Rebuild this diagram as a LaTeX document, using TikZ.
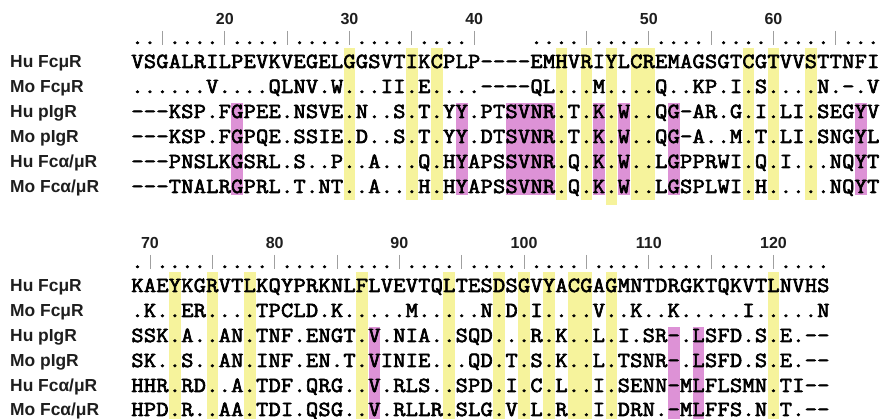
\documentclass[tikz,border=0pt]{standalone}
\usepackage{fontspec}
\setmainfont{Liberation Sans}
\newfontfamily\seqfont{Latin Modern Mono}[FakeStretch=1.1,FakeBold=3]
\definecolor{hlyellow}{RGB}{246,243,156}
\definecolor{hlmagenta}{RGB}{221,146,214}
\definecolor{labelgray}{RGB}{30,30,30}
\tikzset{
  seqchar/.style={font=\seqfont\fontsize{21.5}{21.5}\selectfont, anchor=base, inner sep=0pt},
  rowlabel/.style={font=\bfseries\fontsize{17.4}{17.4}\selectfont, text=labelgray, anchor=base west, inner sep=0pt},
  posnum/.style={font=\bfseries\fontsize{16}{16}\selectfont, text=labelgray, anchor=base, inner sep=0pt},
  tickmark/.style={draw=gray!75, line width=0.9pt},
}
% x position of alignment column #1
\newcommand\colx[1]{137.5+(#1-1)*12.47}
% shaded band over columns #2..#3 from y=#4 to y=#5
\newcommand\hlband[5]{\fill[#1] ({\colx{#2}-5.8},#4) rectangle ({\colx{#3}+5.8},#5);}
% one alignment row: node prefix, baseline y, species label, residues (one per column)
\makeatletter
\newcommand\alnrow[4]{%
  \node[rowlabel] (lab#1) at (10,#2) {#3};
  \def\aln@col{0}%
  \@tfor\aln@ch:=#4\do{%
    \pgfmathtruncatemacro\aln@col{\aln@col+1}%
    \node[seqchar] (#1c\aln@col) at ({\colx{\aln@col}},#2) {\aln@ch};}}
\makeatother
\begin{document}
\begin{tikzpicture}[x=1pt,y=-1pt]
\fill[white] (0,0) rectangle (881,419);
\useasboundingbox (0,0) rectangle (881,419);

% ---------- block 1: residues 13-68 ----------
\foreach \a/\b in {18/18,23/23,25/25,35/35,37/37,41/42,50/50,52/52,55/55}
  {\hlband{hlyellow}{\a}{\b}{48}{200}}
\hlband{hlyellow}{39}{39}{48}{205}
\foreach \a/\b in {9/9,27/27,31/34,38/38,40/40,44/44,59/59}
  {\hlband{hlmagenta}{\a}{\b}{103}{195}}

\foreach \c/\n in {8/20,18/30,28/40,42/50,52/60}
  \node[posnum] (num\n) at ({\colx{\c}},25) {\n};
\foreach \c in {3,8,13,18,23,28,37,42,47,52,57}
  \draw[tickmark] ({\colx{\c}},31) -- ({\colx{\c}},45);
\foreach \c in {1,2,4,5,6,7,9,10,11,12,14,15,16,17,19,20,21,22,24,25,26,27,
                33,34,35,36,38,39,40,41,43,44,45,46,48,49,50,51,53,54,55,56,58,59,60}
  \node[seqchar] (rdA\c) at ({\colx{\c}},44) {.};

\alnrow{A1}{68}{Hu FcμR}{VSGALRILPEVKVEGELGGSVTIKCPLP––––EMHVRIYLCREMAGSGTCGTVVSTTNFI}
\alnrow{A2}{93}{Mo FcμR}{......V....QLNV.W...II.E....––––QL...M....Q..KP.I.S....N.–.V}
\alnrow{A3}{118}{Hu pIgR}{–––KSP.FGPEE.NSVE.N..S.T.YY.PTSVNR.T.K.W..QG–AR.G.I.LI.SEGYV}
\alnrow{A4}{143}{Mo pIgR}{–––KSP.FGPQE.SSIE.D..S.T.YY.DTSVNR.T.K.W..QG–A..M.T.LI.SNGYL}
\alnrow{A5}{168}{Hu Fcα/μR}{–––PNSLKGSRL.S..P..A...Q.HYAPSSVNR.Q.K.W..LGPPRWI.Q.I...NQYT}
\alnrow{A6}{193}{Mo Fcα/μR}{–––TNALRGPRL.T.NT..A...H.HYAPSSVNR.Q.K.W..LGSPLWI.H.....NQYT}

% ---------- block 2: residues 69-124 ----------
\foreach \a/\b in {4/4,7/7,10/10,19/19,26/26,30/30,32/32,34/34,36/37,39/39,52/52}
  {\hlband{hlyellow}{\a}{\b}{272}{419}}
\foreach \a/\b in {20/20,44/44,46/46}
  {\hlband{hlmagenta}{\a}{\b}{327}{419}}

\foreach \c/\n in {2/70,12/80,22/90,32/100,42/110,52/120}
  \node[posnum] (num\n) at ({\colx{\c}},249) {\n};
\foreach \c in {2,7,12,17,22,27,32,37,42,47,52}
  \draw[tickmark] ({\colx{\c}},255) -- ({\colx{\c}},269);
\foreach \c in {1,3,4,5,6,8,9,10,11,13,14,15,16,18,19,20,21,23,24,25,26,
                28,29,30,31,33,34,35,36,38,39,40,41,43,44,45,46,48,49,50,51,53,54,55,56}
  \node[seqchar] (rdB\c) at ({\colx{\c}},268) {.};

\alnrow{B1}{292}{Hu FcμR}{KAEYKGRVTLKQYPRKNLFLVEVTQLTESDSGVYACGAGMNTDRGKTQKVTLNVHS}
\alnrow{B2}{317}{Mo FcμR}{.K..ER....TPCLD.K.....M.....N.D.I....V..K..K.....I.....N}
\alnrow{B3}{342}{Hu pIgR}{SSK.A..AN.TNF.ENGT.V.NIA..SQD...R.K..L.I.SR–.LSFD.S.E.––}
\alnrow{B4}{367}{Mo pIgR}{SK..S..AN.INF.EN.T.VINIE...QD.T.S.K..L.TSNR–.LSFD.S.E.––}
\alnrow{B5}{392}{Hu Fcα/μR}{HHR.RD..A.TDF.QRG..V.RLS..SPD.I.C.L..I.SENN–MLFLSMN.TI––}
\alnrow{B6}{416}{Mo Fcα/μR}{HPD.R..AA.TDI.QSG..V.RLLR.SLG.V.L.R..I.DRN.–MLFFS.N.T.––}
\end{tikzpicture}
\end{document}
